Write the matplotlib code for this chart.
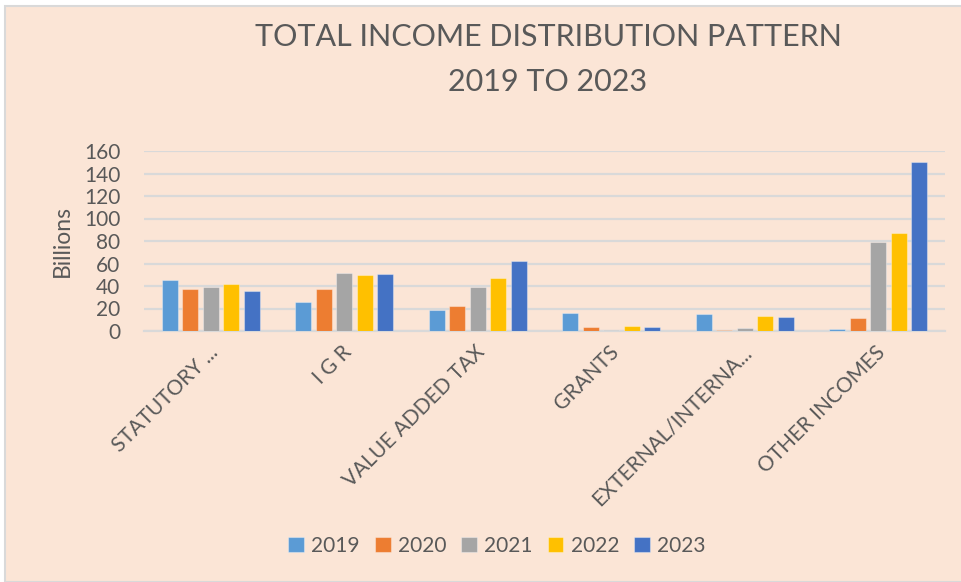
import matplotlib
matplotlib.use("Agg")
import matplotlib.pyplot as plt
import numpy as np
from matplotlib.patches import Rectangle
from matplotlib.transforms import ScaledTranslation

categories = ["STATUTORY ...", "I G R", "VALUE ADDED TAX", "GRANTS", "EXTERNAL/INTERNA...", "OTHER INCOMES"]
years = ["2019", "2020", "2021", "2022", "2023"]
v2019 = [45.7, 25.8, 18.4, 15.7, 14.8, 1.5]
v2020 = [37.7, 37.7, 22.6, 3.3, 0.6, 11.3]
v2021 = [39.5, 51.9, 39.5, 0.6, 2.7, 79.2]
v2022 = [42.1, 49.9, 47.2, 4.2, 13.1, 87.5]
v2023 = [35.3, 50.7, 62.6, 3.3, 12.2, 149.9]
series = [v2019, v2020, v2021, v2022, v2023]
colors = ["#5B9BD5", "#ED7D31", "#A5A5A5", "#FFC000", "#4472C4"]

plt.rcParams['font.family'] = ['Lato', 'DejaVu Sans']
txt = "#595959"
bg = "#FBE5D6"

W, H = 962, 582
fig = plt.figure(figsize=(W/100, H/100), dpi=100, facecolor="white")
fig.patches.append(Rectangle((5/W, 0), 1 - 5/W + 0.01, 1 - 6/H, transform=fig.transFigure,
                             facecolor=bg, edgecolor="#D9D9D9", linewidth=1.5, zorder=-10))

ax = fig.add_axes([144/W, 1 - 331/H, (945-144)/W, (331-151)/H])
ax.set_zorder(1)
ax.patch.set_alpha(0)

x = np.arange(len(categories))
pitch = 0.154
bw = 0.12
for i, (vals, c, yr) in enumerate(zip(series, colors, years)):
    ax.bar(x + (i - 2) * pitch, vals, width=bw, color=c, label=yr, zorder=3,
           edgecolor=(1, 1, 1, 0.35), linewidth=0.8)

ax.set_xlim(-0.5, len(categories) - 0.5)
ax.set_ylim(0, 160)
ax.set_yticks(np.arange(0, 161, 20))
ax.yaxis.grid(True, color="#D9D9D9", linewidth=1.6, zorder=0)
ax.set_axisbelow(True)
for s in ["top", "right", "left"]:
    ax.spines[s].set_visible(False)
ax.spines["bottom"].set_color("#D9D9D9")
ax.spines["bottom"].set_linewidth(1.6)
ax.tick_params(axis="both", length=0, colors=txt, labelsize=15)
ax.tick_params(axis="y", pad=17)
ax.set_xticks(x)
ax.set_xticklabels(categories, rotation=45, ha="right", va="center", rotation_mode="anchor",
                   color=txt, fontsize=15)
ax.tick_params(axis="x", pad=13)
shift = ScaledTranslation(0.04, 0, fig.dpi_scale_trans)
for t in ax.get_xticklabels():
    t.set_transform(t.get_transform() + shift)
for t in ax.get_yticklabels():
    t.set_color(txt)

fig.text(62/W, 1 - 241/H, "Billions", rotation=90, ha="center", va="center", color=txt, fontsize=16.5)

fig.text(548/W, 1 - 37/H, "TOTAL INCOME DISTRIBUTION PATTERN", ha="center", va="center",
         color=txt, fontsize=22)
fig.text(548/W, 1 - 82/H, "2019 TO 2023", ha="center", va="center", color=txt, fontsize=22)

leg = fig.legend(loc="center", bbox_to_anchor=(497/W, 1 - 546/H), ncol=5, frameon=False,
                 fontsize=15, handlelength=0.75, handleheight=0.75, handletextpad=0.35,
                 columnspacing=0.72)
for t in leg.get_texts():
    t.set_color(txt)

fig.savefig("out.png", dpi=100, facecolor="white")
